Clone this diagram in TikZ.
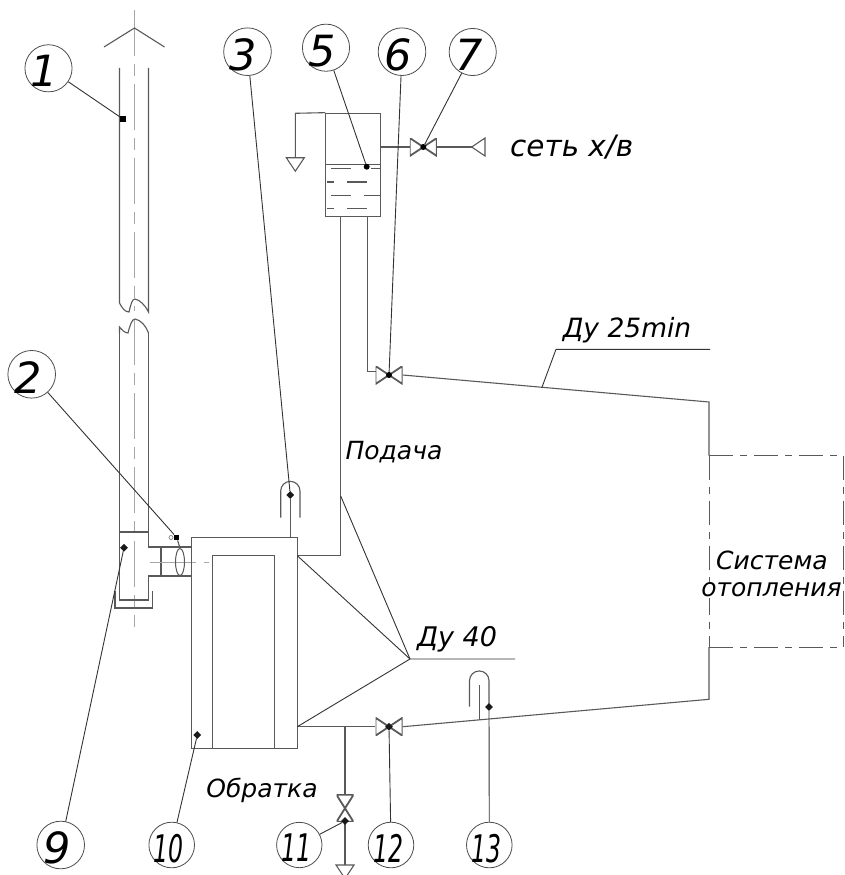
\documentclass[tikz,border=0pt]{standalone}
\usepackage{fontspec}
\setmainfont{DejaVu Sans}
\usetikzlibrary{shapes.geometric}
% 編號數字略偏左下
\newcommand{\calloutnum}[1]{\raisebox{-3pt}[\height][0pt]{#1}\kern 8pt}
\newcommand{\callouttwo}[1]{\raisebox{-3pt}[\height][0pt]{\scalebox{0.62}[1]{#1}}\kern 6pt}
\begin{document}
\begin{tikzpicture}[
        x=1pt, y=-1pt,
        % 管線樣式
        pipe/.style={draw=black!65, line width=1.1pt},
        % 引線樣式
        leader/.style={draw=black!80, line width=0.9pt},
        % 中心線樣式
        axisline/.style={draw=black!35, line width=1pt, dash pattern=on 46pt off 8pt on 12pt off 8pt},
        % 虛線框樣式
        sysline/.style={draw=black!65, line width=1pt, dash pattern=on 24pt off 7pt on 7pt off 7pt},
        % 編號圓圈
        callout/.style={circle, draw=black!70, line width=0.8pt, minimum size=44pt, inner sep=0pt,
            font=\fontsize{43}{43}\selectfont\itshape},
        narrownum/.style={callout, font=\fontsize{38}{38}\selectfont\itshape},
        % 閥門:水平
        valve/.style={
            rectangle,
            minimum width=27pt,
            minimum height=18pt,
            inner sep=0pt,
            path picture={
                \draw[black!65, line width=1.8pt]
                    (path picture bounding box.north west) -- (path picture bounding box.south east)
                    -- (path picture bounding box.north east) -- (path picture bounding box.south west) -- cycle;
            }
        },
        % 閥門:垂直
        valveup/.style={
            rectangle,
            minimum width=17pt,
            minimum height=27pt,
            inner sep=0pt,
            path picture={
                \draw[black!65, line width=1.8pt]
                    (path picture bounding box.north west) -- (path picture bounding box.north east)
                    -- (path picture bounding box.south west) -- (path picture bounding box.south east) -- cycle;
            }
        },
        % 標記點
        squaredot/.style={rectangle, fill=black, minimum size=5.5pt, inner sep=0pt},
        rounddot/.style={circle, fill=black, minimum size=6pt, inner sep=0pt},
        diamonddot/.style={diamond, fill=black!90, minimum size=8pt, inner sep=0pt},
        % 文字標籤樣式
        label_text/.style={font=\fontsize{25}{25}\selectfont\itshape, inner sep=0pt}
    ]
    \useasboundingbox (0,0) rectangle (844,875);

    % --- 煙囪 ---
    \draw[axisline] (134.5,10) -- (134.5,311);
    \draw[axisline] (134.5,319) -- (134.5,627);
    \draw[pipe] (104,47) -- (134.5,28) -- (164.5,47);
    \draw[pipe] (119.5,68) -- (119.5,303) .. controls (122,308) and (125,312) .. (129,312)
        .. controls (131,304) and (132,299) .. (135,299) .. controls (140,300) and (145,305) .. (148.5,312) -- (148.5,68);
    \draw[pipe] (119.5,333) -- (119.5,327) .. controls (122,330) and (125,333) .. (128,333)
        .. controls (130,325) and (132,319) .. (135,319) .. controls (141,320) and (146,326) .. (148.5,333);
    \draw[pipe] (119.5,333) -- (119.5,600) -- (148.5,600) -- (148.5,576) -- (191.5,576);
    \draw[pipe] (148.5,333) -- (148.5,547) -- (191.5,547);
    \draw[pipe] (119.5,532) -- (148.5,532);
    \draw[pipe] (115,591) -- (115,608) -- (152.5,608) -- (152.5,591);
    \draw[pipe] (161,547) -- (161,576);
    \draw[axisline] (150,562) -- (209,562);
    \node[ellipse, draw=black!65, line width=1pt, minimum width=9pt, minimum height=27pt, inner sep=0pt] (damper) at (180,562) {};
    \node[squaredot] (m2) at (176.7,537.5) {};
    \node[circle, draw=black!50, line width=0.7pt, minimum size=4pt, inner sep=0pt] (m2ring) at (171,537.5) {};
    \draw[pipe] (m2) -- (damper.north);

    % --- 鍋爐 ---
    \node[draw=black!65, line width=1.1pt, minimum width=106pt, minimum height=211pt, inner sep=0pt] (boiler) at (244.5,642.8) {};
    \coordinate (innerbl) at (212.7,748.3);
    \coordinate (innerbr) at (274.3,748.3);
    \draw[pipe] (innerbl) -- (212.7,555.7) -- (274.3,555.7) -- (innerbr);

    % --- 膨脹水箱 ---
    \node[draw=black!65, line width=1.1pt, minimum width=55pt, minimum height=103pt, inner sep=0pt] (tank) at (353.3,164.7) {};
    \draw[pipe] (tank.west |- 0,164.7) -- (tank.east |- 0,164.7);
    \foreach \ya/\xa/\xb/\xc/\xd in {168.7/331/351/371/380, 182/326.7/334.3/347.3/367.3, 195.3/331/351/364.3/380, 208.3/326.7/334.3/347.3/367.3}{
        \draw[pipe] (\xa,\ya) -- (\xb,\ya);
        \draw[pipe] (\xc,\ya) -- (\xd,\ya);
    }
    \coordinate (draintop) at (295.3,113.3);
    \coordinate (drainend) at (295.3,157.7);
    \draw[pipe] (tank.north west) -- (draintop) -- (drainend);
    \draw[pipe] (drainend) ++(-9,0) -- ++(18,0) -- ++(-9,13.5) -- cycle;

    % --- 補水管 ---
    \node[valve] (v7) at (423.3,147) {};
    \coordinate (mains) at (471.7,147);
    \draw[pipe] (tank.east |- v7) -- (v7.west);
    \draw[pipe] (v7.east) -- (mains);
    \draw[pipe] (mains) -- (485,138) -- (485,156) -- cycle;
    \node[label_text, font=\fontsize{29.5}{30}\selectfont\itshape, anchor=west] (mainstext) at (510,147) {сеть х/в};

    % --- 供水管 ---
    \node[valve] (v6) at (389,375) {};
    \coordinate (feedturn) at (340.7,555.7);
    \coordinate (sysup) at (709,402);
    \draw[pipe] (340.7,216) -- (feedturn) -- (297.3,555.7);
    \draw[pipe] (367.3,216) -- (367.3,371.7) -- (375.5,371.7);
    \draw[pipe] (v6.east) -- (sysup) -- (709,455.7);

    % --- 回水管 ---
    \node[valve] (v12) at (389,726.7) {};
    \node[valveup] (v11) at (345,808.3) {};
    \coordinate (retturn) at (709,699.3);
    \coordinate (drainlow) at (345,865);
    \draw[pipe] (297.3,726.7) -- (v12.west);
    \draw[pipe] (v12.east) -- (retturn) -- (709,647);
    \draw[pipe] (345,726.7) -- (v11.north);
    \draw[pipe] (v11.south) -- (drainlow);
    \draw[pipe] (drainlow) ++(-9,0) -- ++(18,0) -- ++(-9,13.5) -- cycle;

    % --- 溫度計 ---
    \draw[pipe] (280.7,517.7) -- (280.7,491) arc[start angle=180, end angle=360, radius=9.65] -- (300,517.7);
    \node[diamonddot] (m3) at (290.3,495) {};
    \draw[pipe] (m3) -- (290.3,537.3);
    \draw[pipe] (469.5,706.7) -- (469.5,680.7) arc[start angle=180, end angle=360, radius=9.75] -- (489,707);
    \node[diamonddot] (m13) at (489,707) {};
    \draw[pipe] (479.3,685) -- (479.3,719.5);

    % --- 系統框 ---
    \draw[sysline] (709,455.7) -- (844,455.7);
    \draw[sysline] (843.5,455.7) -- (843.5,647);
    \draw[sysline] (709,647) -- (844,647);
    \draw[sysline] (709,455.7) -- (709,647);
    \node[label_text] (systext) at (772,560) {Система};
    \node[label_text, fill=white, inner sep=1pt] (systextb) at (771.5,590) {отопления};

    % --- 標註 ---
    \node[label_text] (supplytext) at (394,451.7) {Подача};
    \node[label_text] (returntext) at (262,790) {Обратка};
    \node[label_text, font=\fontsize{26.5}{27}\selectfont\itshape] (dn25) at (627,330) {Ду 25min};
    \node[label_text, font=\fontsize{27}{27}\selectfont\itshape] (dn40) at (457,639) {Ду 40};
    \coordinate (dn25a) at (556,349.3);
    \coordinate (dn25b) at (710,349.3);
    \coordinate (dn40a) at (410,659);
    \coordinate (dn40b) at (515,659);
    \draw[leader] (541.7,388) -- (dn25a) -- (dn25b);
    \draw[leader] (dn40b) -- (dn40a) -- (297.3,555.7);
    \draw[leader] (dn40a) -- (340.7,496);
    \draw[leader] (dn40a) -- (297.3,726.7);

    % --- 編號圓圈 ---
    \node[callout] (c1) at (48.5,68.3) {\calloutnum{1}};
    \node[callout] (c2) at (31.7,374.3) {\calloutnum{2}};
    \node[callout] (c3) at (247.5,51.7) {\calloutnum{3}};
    \node[callout] (c5) at (326,47.7) {\calloutnum{5}};
    \node[callout] (c6) at (402,51.7) {\calloutnum{6}};
    \node[callout] (c7) at (472.7,52) {\calloutnum{7}};
    \node[callout] (c9) at (60.7,845) {\calloutnum{9}};
    \node[narrownum] (c10) at (171.7,845) {\callouttwo{10}};
    \node[narrownum] (c11) at (299.3,845) {\callouttwo{11}};
    \node[narrownum] (c12) at (391,845) {\callouttwo{12}};
    \node[narrownum] (c13) at (489.3,845) {\callouttwo{13}};

    % --- 標記點與引線 ---
    \node[squaredot] (m1) at (123,119) {};
    \node[rounddot] (m5) at (366.7,166.7) {};
    \node[rounddot] (m6) at (389,375) {};
    \node[rounddot] (m7) at (423.3,147) {};
    \node[diamonddot] (m9) at (124,547.7) {};
    \node[diamonddot] (m10) at (197.3,735) {};
    \node[diamonddot] (m11) at (345,821) {};
    \node[diamonddot] (m12) at (389,726.7) {};
    \draw[leader] (c1) -- (m1);
    \draw[leader] (c2) -- (m2);
    \draw[leader] (c3) -- (m3);
    \draw[leader] (c5) -- (m5);
    \draw[leader] (c6) -- (m6);
    \draw[leader] (c7) -- (m7);
    \draw[leader] (c9) -- (m9);
    \draw[leader] (c10) -- (m10);
    \draw[leader] (c11) -- (m11);
    \draw[leader] (c12) -- (m12);
    \draw[leader] (c13) -- (m13);
\end{tikzpicture}
\end{document}
